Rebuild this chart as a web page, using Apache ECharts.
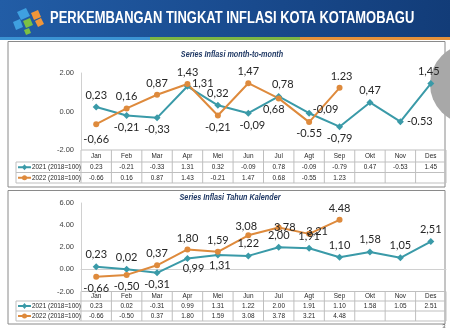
<!DOCTYPE html>
<html><head><meta charset="utf-8">
<script src="https://cdn.jsdelivr.net/npm/echarts@6/dist/echarts.min.js"></script>
<style>html,body{margin:0;padding:0;background:#fff}#c{width:450px;height:328px}</style>
</head><body><div id="c"></div>
<script>
const headerTitle = 'PERKEMBANGAN TINGKAT INFLASI KOTA KOTAMOBAGU';
const chartTitles = ['Series Inflasi month-to-month', 'Series Inflasi Tahun Kalender'];
const months = ['Jan','Feb','Mar','Apr','Mei','Jun','Jul','Agt','Sep','Okt','Nov','Des'];
const seriesNames = ['2021 (2018=100)', '2022 (2018=100)'];
const mtm2021 = [0.23,-0.21,-0.33,1.31,0.32,-0.09,0.78,-0.09,-0.79,0.47,-0.53,1.45];
const mtm2022 = [-0.66,0.16,0.87,1.43,-0.21,1.47,0.68,-0.55,1.23];
const mtmLabels2021 = ['0,23','-0,21','-0,33','1,31','0,32','-0,09','0,78','-0,09','-0,79','0,47','-0.53','1,45'];
const mtmLabels2022 = ['-0,66','0,16','0,87','1,43','-0,21','1,47','0,68','-0.55','1.23'];
const ytd2021 = [0.23,0.02,-0.31,0.99,1.31,1.22,2.00,1.91,1.10,1.58,1.05,2.51];
const ytd2022 = [-0.66,-0.50,0.37,1.80,1.59,3.08,3.78,3.21,4.48];
const ytdLabels2021 = ['0,23','0,02','-0,31','0,99','1,31','1,22','2,00','1,91','1,10','1,58','1,05','2,51'];
const ytdLabels2022 = ['-0,66','-0,50','0,37','1,80','1,59','3,08','3,78','3,21','4.48'];
const mtmAxis = {min: -2, max: 2, interval: 2};
const ytdAxis = {min: -2, max: 6, interval: 2};

// label placement (style only)
const mtmPos2021 = [['top'],['bottom'],['bottom'],['right',[-2,-3]],['top'],['bottom',[4,0]],['top',[4,0]],['right',[-3,-4]],['bottom'],['top'],['right'],['top',[-2,0]]];
const mtmPos2022 = [['bottom',[0,4]],['top'],['top'],['top'],['bottom'],['top'],['bottom',[-5,0]],['bottom'],['top',[2,0]]];
const ytdPos2021 = [['top'],['top'],['bottom'],['bottom',[6,-2]],['bottom',[2,-1]],['top'],['top'],['top'],['top'],['top'],['top'],['top']];
const ytdPos2022 = [['bottom'],['bottom'],['top'],['top'],['top'],['top',[-2,3]],['inside',[6,0]],['inside',[8,-2]],['top']];

const TEAL = '#3a9aa8', ORANGE = '#de8a3c';
const LBL = {fontFamily: 'Lato, "Open Sans", sans-serif', fontSize: 11, color: '#262626'};
const SANS = '"Liberation Sans", Arial, sans-serif';

function mkData(vals, labels, pos) {
  return vals.map((v, i) => ({
    value: v,
    label: {position: pos[i][0], offset: pos[i][1] || [0, 0], formatter: labels[i]}
  }));
}
function mkSeries(name, idx, vals, labels, pos, color, symbol) {
  return {
    type: 'line', name: name, xAxisIndex: idx, yAxisIndex: idx,
    data: mkData(vals, labels, pos),
    symbol: symbol, symbolSize: symbol === 'circle' ? 6 : 7,
    lineStyle: {color: color, width: 2},
    itemStyle: {color: color},
    label: Object.assign({show: true, distance: 3}, LBL),
    animation: false, z: 3
  };
}

const G0 = {left: 81, right: 4, top: 73, height: 77};
const G1 = {left: 81, right: 4, top: 203, height: 88.5};

function yAxisCfg(gi, ax) {
  return {
    type: 'value', gridIndex: gi, min: ax.min, max: ax.max, interval: ax.interval,
    axisLine: {show: true, lineStyle: {color: '#d0d0d0'}},
    axisTick: {show: false}, splitLine: {show: false},
    axisLabel: {formatter: v => v.toFixed(2), fontSize: 7.5, color: '#404040', fontFamily: SANS, margin: 7}
  };
}

const chart = echarts.init(document.getElementById('c'));
chart.setOption({
  animation: false,
  grid: [G0, G1],
  xAxis: [
    {type: 'category', gridIndex: 0, data: months, boundaryGap: true,
     axisLine: {show: false}, axisTick: {show: false}, axisLabel: {show: false}},
    {type: 'category', gridIndex: 1, data: months, boundaryGap: true,
     axisLine: {show: true, onZero: true, lineStyle: {color: '#d0d0d0'}}, axisTick: {show: false}, axisLabel: {show: false}}
  ],
  yAxis: [yAxisCfg(0, mtmAxis), yAxisCfg(1, ytdAxis)],
  series: [
    mkSeries(seriesNames[0], 0, mtm2021, mtmLabels2021, mtmPos2021, TEAL, 'diamond'),
    mkSeries(seriesNames[1], 0, mtm2022, mtmLabels2022, mtmPos2022, ORANGE, 'circle'),
    mkSeries(seriesNames[0], 1, ytd2021, ytdLabels2021, ytdPos2021, TEAL, 'diamond'),
    mkSeries(seriesNames[1], 1, ytd2022, ytdLabels2022, ytdPos2022, ORANGE, 'circle')
  ]
});

// ---- decorations & tables ----
const gfx = [];
// header
gfx.push({type: 'rect', shape: {x: 0, y: 0, width: 450, height: 38}, z: -10,
  style: {fill: new echarts.graphic.LinearGradient(0, 0, 1, 1, [
    {offset: 0, color: '#225da6'}, {offset: 0.5, color: '#1a4c90'}, {offset: 1, color: '#123c78'}])}});
gfx.push({type: 'rect', shape: {x: 0, y: 37, width: 150, height: 3}, style: {fill: '#3b93d3'}});
gfx.push({type: 'rect', shape: {x: 150, y: 37, width: 150, height: 3}, style: {fill: '#7cb544'}});
gfx.push({type: 'rect', shape: {x: 300, y: 37, width: 150, height: 3}, style: {fill: '#e4913a'}});
// logo
gfx.push({type: 'polygon', shape: {points: [[17,12],[26,8],[30,16],[21,20]]}, style: {fill: '#3fa0e0'}});
gfx.push({type: 'polygon', shape: {points: [[13,22],[20,19],[23,27],[16,30]]}, style: {fill: '#3fa0e0'}});
gfx.push({type: 'polygon', shape: {points: [[23,21],[30,18],[33,25],[26,28]]}, style: {fill: '#7cc043'}});
gfx.push({type: 'polygon', shape: {points: [[24,30],[29,28],[31,33],[26,35]]}, style: {fill: '#7cc043'}});
gfx.push({type: 'polygon', shape: {points: [[31,13],[38,10],[41,17],[34,20]]}, style: {fill: '#f0963a'}});
gfx.push({type: 'polygon', shape: {points: [[35,21],[41,18],[44,24],[38,27]]}, style: {fill: '#f0963a'}});
gfx.push({type: 'text', x: 50, y: 19, scaleX: 0.81, style: {text: headerTitle, fill: '#ffffff', fontSize: 16,
  fontWeight: 'bold', fontFamily: SANS, verticalAlign: 'middle'}});
// chart titles
[[chartTitles[0], 232, 55], [chartTitles[1], 230, 198]].forEach(t => {
  gfx.push({type: 'text', x: t[1], y: t[2], scaleX: 0.85, style: {text: t[0], fill: '#1f3864', fontSize: 8.5,
    fontStyle: 'italic', fontWeight: 'bold', fontFamily: SANS, align: 'center', verticalAlign: 'middle'}});
});
// panel boxes
gfx.push({type: 'rect', shape: {x: 8, y: 41.5, width: 437, height: 145.5}, z: -5,
  style: {fill: 'none', stroke: '#8a8a8a', lineWidth: 1}});
gfx.push({type: 'rect', shape: {x: 8, y: 190.5, width: 437, height: 133.5}, z: -5,
  style: {fill: 'none', stroke: '#8a8a8a', lineWidth: 1}});
// grey circle at right edge
gfx.push({type: 'circle', shape: {cx: 470, cy: 84, r: 40}, z: 1, style: {fill: '#a8a8a8'}});
// page number
gfx.push({type: 'text', x: 444, y: 326, style: {text: '3', fontSize: 6, fill: '#555', align: 'center', verticalAlign: 'middle'}});

const LINE = '#bfbfbf';
function hline(x1, x2, y) { gfx.push({type: 'line', shape: {x1: x1, y1: y, x2: x2, y2: y}, style: {stroke: LINE, lineWidth: 1}}); }
function vline(x, y1, y2) { gfx.push({type: 'line', shape: {x1: x, y1: y1, x2: x, y2: y2}, style: {stroke: LINE, lineWidth: 1}}); }
function txt(x, y, s, align) {
  gfx.push({type: 'text', x: x, y: y, scaleX: 0.8, style: {text: s, fontSize: 8, fill: '#262626', fontFamily: SANS,
    align: align || 'center', verticalAlign: 'middle'}});
}
function table(ai, top, h0, h, v21, v22) {
  const gridLeft = 81, gridRight = 446;
  const colW = (gridRight - gridLeft) / months.length;
  const y1 = top + h0, y2 = y1 + h, y3 = y2 + h;
  hline(gridLeft, gridRight, top);
  hline(16, gridRight, y1); hline(16, gridRight, y2); hline(16, gridRight, y3);
  vline(16, y1, y3); vline(gridLeft, top, y3);
  months.forEach((m, i) => {
    const cx = chart.convertToPixel({xAxisIndex: ai}, m);
    vline(cx + colW / 2, top, y3);
    txt(cx, top + h0 / 2, m);
    if (v21[i] !== undefined) txt(cx, y1 + h / 2, v21[i].toFixed(2));
    if (v22[i] !== undefined) txt(cx, y2 + h / 2, v22[i].toFixed(2));
  });
  [[seriesNames[0], TEAL, 'diamond', y1 + h / 2], [seriesNames[1], ORANGE, 'circle', y2 + h / 2]].forEach(r => {
    gfx.push({type: 'line', shape: {x1: 18, y1: r[3], x2: 31, y2: r[3]}, style: {stroke: r[1], lineWidth: 2}});
    if (r[2] === 'circle') gfx.push({type: 'circle', shape: {cx: 24.5, cy: r[3], r: 2.5}, style: {fill: r[1]}});
    else gfx.push({type: 'polygon', shape: {points: [[24.5, r[3] - 3], [27, r[3]], [24.5, r[3] + 3], [22, r[3]]]}, style: {fill: r[1]}});
    txt(32, r[3], r[0], 'left');
  });
}
table(0, 150, 12, 10.5, mtm2021, mtm2022);
table(1, 291.5, 9.5, 10, ytd2021, ytd2022);

chart.setOption({graphic: {elements: gfx}});
</script></body></html>
